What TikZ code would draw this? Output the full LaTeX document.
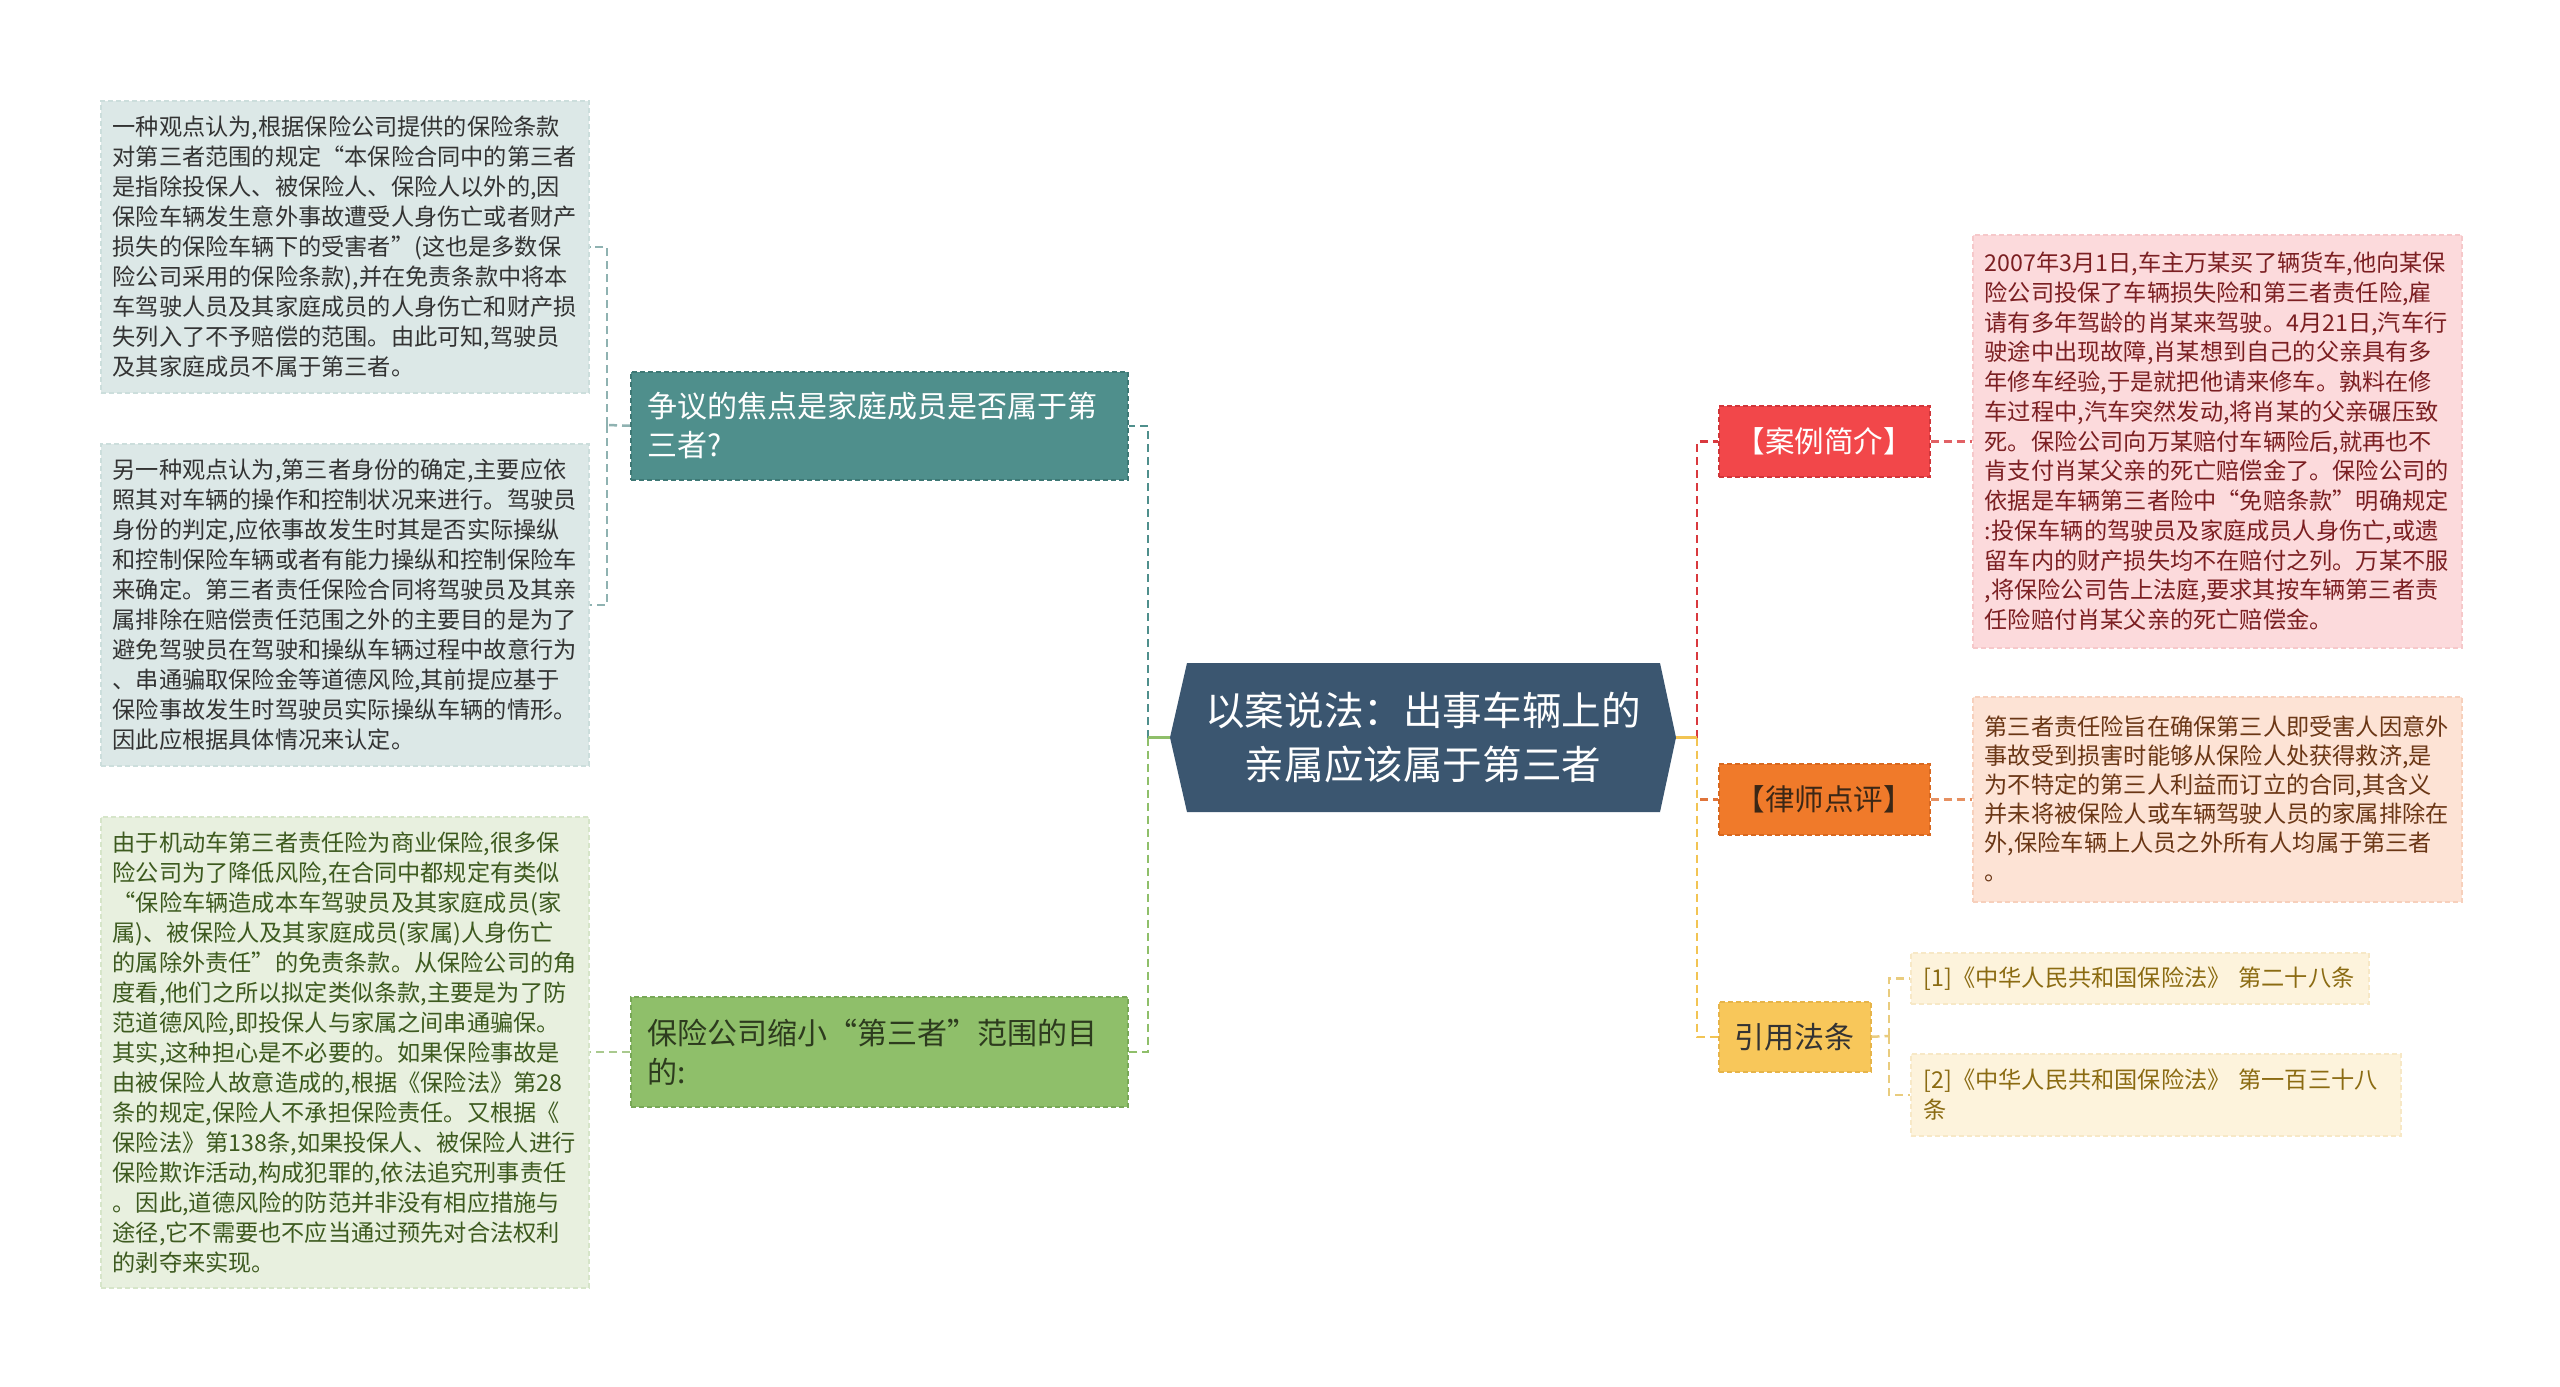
\documentclass[tikz,border=0pt]{standalone}
\usepackage{fontspec}
\setmainfont{Noto Sans CJK SC}
\definecolor{leafA}{HTML}{DCE8E7}
\definecolor{leafAb}{HTML}{CCDEDC}
\definecolor{leafAt}{HTML}{333333}
\definecolor{leafB}{HTML}{E8F0DF}
\definecolor{leafBb}{HTML}{D6E5C9}
\definecolor{leafBt}{HTML}{3D5A1F}
\definecolor{tealF}{HTML}{4F8F8C}
\definecolor{tealB}{HTML}{3E7875}
\definecolor{greenF}{HTML}{8FBF6A}
\definecolor{greenB}{HTML}{78A857}
\definecolor{greenT}{HTML}{2D3B1E}
\definecolor{centF}{HTML}{3B5670}
\definecolor{redF}{HTML}{F2474A}
\definecolor{redB}{HTML}{D0363A}
\definecolor{orF}{HTML}{F07A2A}
\definecolor{orB}{HTML}{D8681F}
\definecolor{orT}{HTML}{3B2716}
\definecolor{yeF}{HTML}{F8C75A}
\definecolor{yeB}{HTML}{E6B44A}
\definecolor{caseF}{HTML}{FCDADC}
\definecolor{caseB}{HTML}{F6C8CA}
\definecolor{caseT}{HTML}{7B1F22}
\definecolor{lawyF}{HTML}{FDE3D5}
\definecolor{lawyB}{HTML}{F7D0BC}
\definecolor{lawyT}{HTML}{6A3615}
\definecolor{lawF}{HTML}{FDF3DC}
\definecolor{lawB}{HTML}{F7E8C6}
\definecolor{lawT}{HTML}{8B6B12}
\definecolor{lnTeal}{HTML}{4F8F8C}
\definecolor{lnTealL}{HTML}{8FB2B1}
\definecolor{lnGreen}{HTML}{8FBF6A}
\definecolor{lnGreenL}{HTML}{A9C98E}
\definecolor{lnRed}{HTML}{D9393E}
\definecolor{lnOr}{HTML}{E0743A}
\definecolor{lnYe}{HTML}{F2C453}
\definecolor{lnYeL}{HTML}{E9CC7E}
\begin{document}
\begin{tikzpicture}[x=1pt,y=-1pt,
  box/.style={anchor=north west, dash pattern=on 5pt off 3pt, line width=1.5pt,
    inner xsep=12pt, inner ysep=0pt, align=left, font=\fontsize{23.2}{30}\selectfont},
  branchbox/.style={anchor=north west, dash pattern=on 5pt off 3pt, line width=1.5pt,
    inner xsep=17pt, inner ysep=0pt, align=left, font=\fontsize{30}{39}\selectfont},
  tagbox/.style={anchor=north west, dash pattern=on 5pt off 3pt, line width=1.5pt,
    inner sep=0pt, align=center, font=\fontsize{29.5}{36}\selectfont},
  link/.style={line width=2.5pt, dash pattern=on 8pt off 5pt},
  stub/.style={line width=2.5pt}
]
\useasboundingbox[fill=white] (0,0) rectangle (2560,1387);

% left leaves
\node[box, fill=leafA, draw=leafAb, text=leafAt, text width=464pt, minimum height=292pt] (l1) at (100,100) {一种观点认为,根据保险公司提供的保险条款\\对第三者范围的规定“本保险合同中的第三者\\是指除投保人、被保险人、保险人以外的,因\\保险车辆发生意外事故遭受人身伤亡或者财产\\损失的保险车辆下的受害者”(这也是多数保\\险公司采用的保险条款),并在免责条款中将本\\车驾驶人员及其家庭成员的人身伤亡和财产损\\失列入了不予赔偿的范围。由此可知,驾驶员\\及其家庭成员不属于第三者。};
\node[box, fill=leafA, draw=leafAb, text=leafAt, text width=464pt, minimum height=322pt] (l2) at (100,443) {另一种观点认为,第三者身份的确定,主要应依\\照其对车辆的操作和控制状况来进行。驾驶员\\身份的判定,应依事故发生时其是否实际操纵\\和控制保险车辆或者有能力操纵和控制保险车\\来确定。第三者责任保险合同将驾驶员及其亲\\属排除在赔偿责任范围之外的主要目的是为了\\避免驾驶员在驾驶和操纵车辆过程中故意行为\\、串通骗取保险金等道德风险,其前提应基于\\保险事故发生时驾驶员实际操纵车辆的情形。\\因此应根据具体情况来认定。};
\node[box, fill=leafB, draw=leafBb, text=leafBt, text width=464pt, minimum height=471pt] (l3) at (100,816) {由于机动车第三者责任险为商业保险,很多保\\险公司为了降低风险,在合同中都规定有类似\\“保险车辆造成本车驾驶员及其家庭成员(家\\属)、被保险人及其家庭成员(家属)人身伤亡\\的属除外责任”的免责条款。从保险公司的角\\度看,他们之所以拟定类似条款,主要是为了防\\范道德风险,即投保人与家属之间串通骗保。\\其实,这种担心是不必要的。如果保险事故是\\由被保险人故意造成的,根据《保险法》第28\\条的规定,保险人不承担保险责任。又根据《\\保险法》第138条,如果投保人、被保险人进行\\保险欺诈活动,构成犯罪的,依法追究刑事责任\\。因此,道德风险的防范并非没有相应措施与\\途径,它不需要也不应当通过预先对合法权利\\的剥夺来实现。};

% left branches
\node[branchbox, fill=tealF, draw=tealB, text=white, text width=463pt, minimum height=108pt] (b1) at (630,371) {争议的焦点是家庭成员是否属于第\\三者?};
\node[branchbox, fill=greenF, draw=greenB, text=greenT, text width=463pt, minimum height=110pt] (b2) at (630,996) {保险公司缩小“第三者”范围的目\\的:};

% center
\fill[centF] (1170,737.5) -- (1187,663) -- (1660,663) -- (1676,737.5) -- (1660,812) -- (1187,812) -- cycle;
\node[text=white, font=\fontsize{39.6}{54}\selectfont, align=center, minimum width=506pt, minimum height=149pt, inner sep=0pt] (c) at (1423,737.5) {以案说法：出事车辆上的\\亲属应该属于第三者};

% right branches
\node[tagbox, fill=redF, draw=redB, text=white, minimum width=211pt, minimum height=71pt] (r1) at (1718,405) {【案例简介】};
\node[tagbox, fill=orF, draw=orB, text=orT, minimum width=211pt, minimum height=71pt] (r2) at (1718,763) {【律师点评】};
\node[tagbox, fill=yeF, draw=yeB, text=leafAt, minimum width=152pt, minimum height=70pt, font=\fontsize{30}{36}\selectfont] (r3) at (1718,1001) {引用法条};

% right leaves
\node[box, fill=caseF, draw=caseB, text=caseT, text width=465pt, minimum height=413pt, font=\fontsize{23.2}{29.75}\selectfont] (case) at (1972,234) {2007年3月1日,车主万某买了辆货车,他向某保\\险公司投保了车辆损失险和第三者责任险,雇\\请有多年驾龄的肖某来驾驶。4月21日,汽车行\\驶途中出现故障,肖某想到自己的父亲具有多\\年修车经验,于是就把他请来修车。孰料在修\\车过程中,汽车突然发动,将肖某的父亲碾压致\\死。保险公司向万某赔付车辆险后,就再也不\\肯支付肖某父亲的死亡赔偿金了。保险公司的\\依据是车辆第三者险中“免赔条款”明确规定\\:投保车辆的驾驶员及家庭成员人身伤亡,或遗\\留车内的财产损失均不在赔付之列。万某不服\\,将保险公司告上法庭,要求其按车辆第三者责\\任险赔付肖某父亲的死亡赔偿金。};
\node[box, fill=lawyF, draw=lawyB, text=lawyT, text width=465pt, minimum height=205pt, font=\fontsize{23.2}{29}\selectfont] (lawyer) at (1972,696) {第三者责任险旨在确保第三人即受害人因意外\\事故受到损害时能够从保险人处获得救济,是\\为不特定的第三人利益而订立的合同,其含义\\并未将被保险人或车辆驾驶人员的家属排除在\\外,保险车辆上人员之外所有人均属于第三者\\。};
\node[box, fill=lawF, draw=lawB, text=lawT, inner xsep=13pt, text width=432pt, minimum height=51pt] (law1) at (1910,952) {[1]《中华人民共和国保险法》 第二十八条};
\node[box, fill=lawF, draw=lawB, text=lawT, inner xsep=13pt, text width=464pt, minimum height=82pt] (law2) at (1910,1053) {[2]《中华人民共和国保险法》 第一百三十八\\条};

% junctions
\coordinate (jL) at (1148,737.5);
\coordinate (jB1) at (607,425);
\coordinate (jR) at (1697,737.5);
\coordinate (jR3) at (1889,1036);

% left connectors
\draw[link, lnTeal] (jL) |- (b1.east);
\draw[link, lnGreen] (jL) |- (b2.east);
\draw[stub, lnGreen] (c.west) -- (jL);
\draw[link, lnTealL] (b1.west) -- (jB1);
\draw[link, lnTealL] (jB1) |- (l1.east);
\draw[link, lnTealL] (jB1) |- (l2.east);
\draw[link, lnGreenL] (b2.west) -- (b2.west -| l3.east);

% right connectors
\draw[link, lnRed] (jR) |- (r1.west);
\draw[link, lnOr] (jR) |- (r2.west);
\draw[link, lnYe] (jR) |- (r3.west);
\draw[stub, lnYe] (c.east) -- (jR);
\draw[link, lnRed!80] (r1.east) -- (r1.east -| case.west);
\draw[link, lnOr!80] (r2.east) -- (r2.east -| lawyer.west);
\draw[link, lnYeL] (r3.east) -- (jR3);
\draw[link, lnYeL] (jR3) |- (law1.west);
\draw[link, lnYeL] (jR3) |- (law2.west);
\end{tikzpicture}
\end{document}
